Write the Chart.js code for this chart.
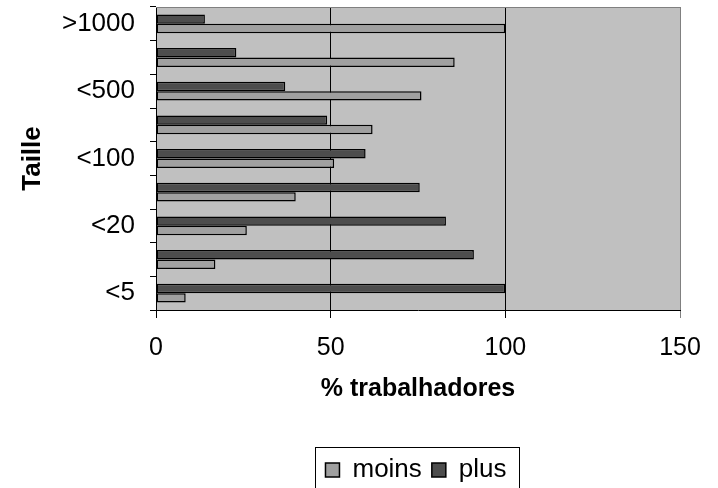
<!DOCTYPE html>
<html>
<head>
<meta charset="utf-8">
<script src="https://cdn.jsdelivr.net/npm/chart.js@4.4.1/dist/chart.umd.min.js"></script>
<style>
  html, body { margin: 0; padding: 0; background: #fff; }
  #wrap { width: 718px; height: 488px; }
</style>
</head>
<body>
<div id="wrap"><canvas id="taille__chart"></canvas></div>
<script>
// categories from top to bottom, as in the picture (only every other one is labelled)
var categories = ['>1000', '', '<500', '', '<100', '', '<20', '', '<5'];
var plus = [14, 23, 37, 49, 60, 75.5, 83, 91, 100];
var moins = [100, 85.5, 76, 62, 51, 40, 26, 17, 8.5];
var xTicks = [0, 50, 100, 150];

var font = "'Liberation Sans', Arial, sans-serif";

var plotBg = {
    id: 'plotBg',
    afterUpdate: function (chart) {
        // legend sits under the plot area, not the page centre
        var lg = chart.legend;
        var shift = (chart.chartArea.left + chart.chartArea.right) / 2 - (lg.left + lg.right) / 2 - 2;
        lg.left += shift; lg.right += shift;
        lg.top += 5; lg.bottom += 5;
    },
    beforeDraw: function (chart) {
        var a = chart.chartArea, c = chart.ctx;
        c.save();
        c.fillStyle = '#C0C0C0';
        c.fillRect(a.left, a.top, a.right - a.left, a.bottom - a.top);
        c.restore();
    },
    afterDraw: function (chart) {
        var a = chart.chartArea, c = chart.ctx;
        c.save();
        c.strokeStyle = '#808080';
        c.lineWidth = 1;
        c.beginPath();
        c.moveTo(a.left, a.top + 0.5);
        c.lineTo(a.right, a.top + 0.5);
        c.stroke();
        // box round the legend, its lower edge falls off the page
        var lg = chart.legend;
        if (lg && lg.lineWidths) {
            var pad = lg.options.labels.padding;
            var w = lg.lineWidths[0];
            var start = (lg.left + pad + lg.right - w) / 2;
            var l = start - 10, r = start + w - pad + 13, t = lg.top + pad - 10;
            c.strokeStyle = '#000';
            c.strokeRect(Math.round(l) + 0.5, Math.round(t) + 0.5, Math.round(r - l), 60);
        }
        c.restore();
    }
};

var ctxT = document.getElementById('taille__chart');
new Chart(ctxT, {
    type: 'bar',
    plugins: [plotBg],
    data: {
        labels: categories,
        datasets: [{
            label: 'plus',
            data: plus,
            backgroundColor: '#4D4D4D',
            borderColor: '#000',
            borderWidth: 1.5,
            borderSkipped: false
        },
        {
            label: 'moins',
            data: moins,
            backgroundColor: '#A0A0A0',
            borderColor: '#000',
            borderWidth: 1.5,
            borderSkipped: false
        }]
    },
    options: {
        indexAxis: 'y',
        responsive: true,
        maintainAspectRatio: false,
        animation: false,
        categoryPercentage: 0.56,
        barPercentage: 1,
        layout: { padding: { top: 7, right: 38, left: 0, bottom: 0 } },
        plugins: {
            tooltip: { enabled: false },
            legend: {
                position: 'bottom',
                reverse: true,
                labels: {
                    color: '#000',
                    font: { family: font, size: 26 },
                    boxWidth: 14,
                    boxHeight: 14,
                    padding: 10
                }
            }
        },
        scales: {
            x: {
                min: 0,
                max: 150,
                afterBuildTicks: function (s) { s.ticks = xTicks.map(function (v) { return { value: v }; }); },
                afterFit: function (s) { s.height = 132; },
                border: { color: '#000', width: 1 },
                grid: {
                    color: function (c) { return c.tick && c.tick.value === 150 ? '#808080' : '#000'; },
                    tickLength: 8
                },
                ticks: { color: '#000', font: { family: font, size: 25 }, padding: 15, maxRotation: 0 },
                title: {
                    display: true,
                    text: '% trabalhadores',
                    color: '#000',
                    font: { family: font, size: 25, weight: 'bold' },
                    padding: { top: 0, bottom: 38 }
                }
            },
            y: {
                afterFit: function (s) { s.width = 156; s.paddingTop = 0; s.paddingBottom = 0; },
                border: { color: '#000', width: 1 },
                grid: { offset: true, drawOnChartArea: false, color: '#000', tickLength: 6 },
                ticks: { color: '#000', font: { family: font, size: 26 }, padding: 15, autoSkip: false },
                title: {
                    display: true,
                    text: 'Taille',
                    color: '#000',
                    font: { family: font, size: 26, weight: 'bold' },
                    padding: { top: 17, bottom: 0 }
                }
            }
        }
    }
});
</script>
</body>
</html>
